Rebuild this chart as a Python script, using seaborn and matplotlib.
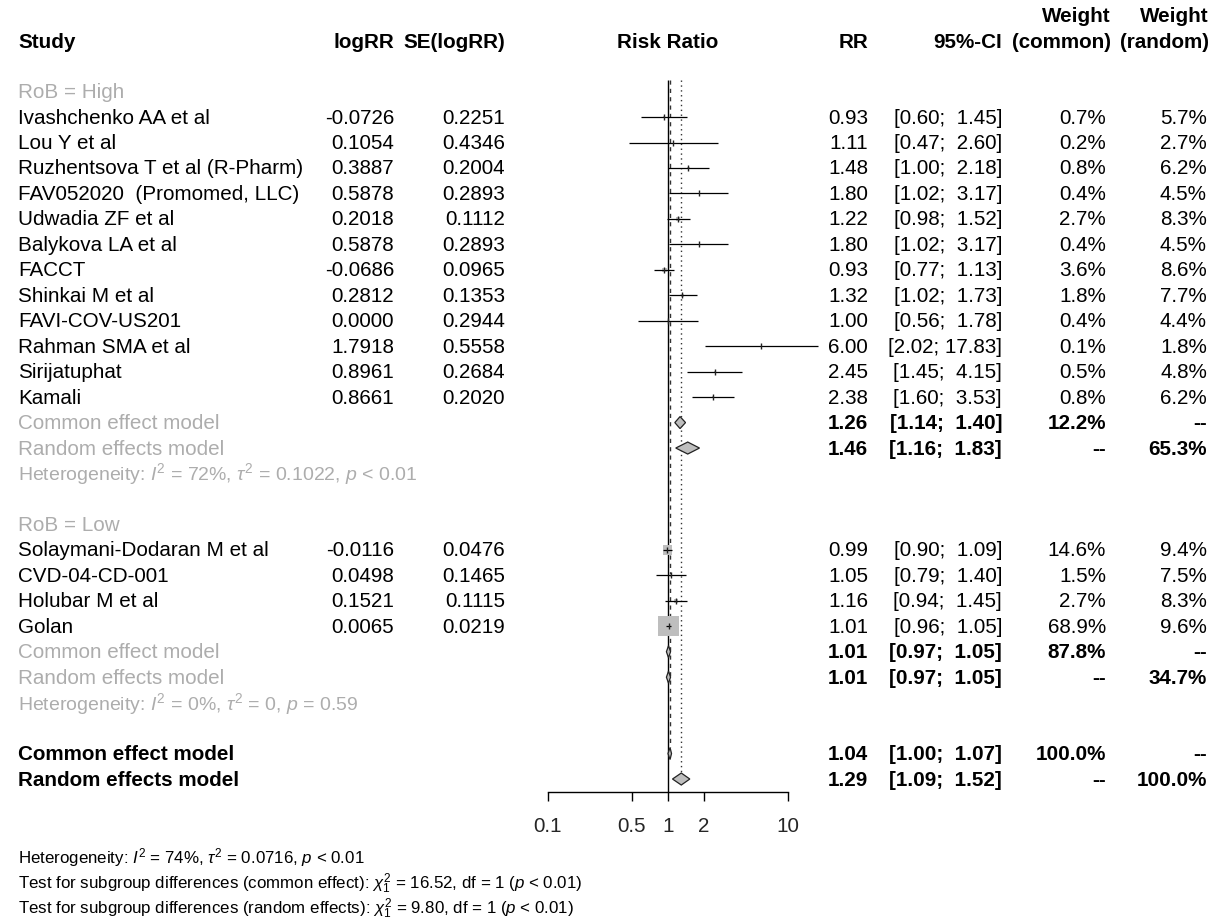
import matplotlib
matplotlib.use("Agg")
import matplotlib.pyplot as plt
from matplotlib.patches import Polygon
from matplotlib.ticker import NullLocator, FixedLocator, FixedFormatter
import numpy as np
import pandas as pd
import seaborn as sns

# ---------------- data ----------------
high_study = ["Ivashchenko AA et al", "Lou Y et al", "Ruzhentsova T et al (R-Pharm)",
              "FAV052020  (Promomed, LLC)", "Udwadia ZF et al", "Balykova LA et al",
              "FACCT", "Shinkai M et al", "FAVI-COV-US201", "Rahman SMA et al",
              "Sirijatuphat", "Kamali"]
high_logrr = [-0.0726, 0.1054, 0.3887, 0.5878, 0.2018, 0.5878, -0.0686, 0.2812, 0.0000, 1.7918, 0.8961, 0.8661]
high_se = [0.2251, 0.4346, 0.2004, 0.2893, 0.1112, 0.2893, 0.0965, 0.1353, 0.2944, 0.5558, 0.2684, 0.2020]
high_rr = [0.93, 1.11, 1.48, 1.80, 1.22, 1.80, 0.93, 1.32, 1.00, 6.00, 2.45, 2.38]
high_lo = [0.60, 0.47, 1.00, 1.02, 0.98, 1.02, 0.77, 1.02, 0.56, 2.02, 1.45, 1.60]
high_hi = [1.45, 2.60, 2.18, 3.17, 1.52, 3.17, 1.13, 1.73, 1.78, 17.83, 4.15, 3.53]
high_wc = [0.7, 0.2, 0.8, 0.4, 2.7, 0.4, 3.6, 1.8, 0.4, 0.1, 0.5, 0.8]
high_wr = [5.7, 2.7, 6.2, 4.5, 8.3, 4.5, 8.6, 7.7, 4.4, 1.8, 4.8, 6.2]

low_study = ["Solaymani-Dodaran M et al", "CVD-04-CD-001", "Holubar M et al", "Golan"]
low_logrr = [-0.0116, 0.0498, 0.1521, 0.0065]
low_se = [0.0476, 0.1465, 0.1115, 0.0219]
low_rr = [0.99, 1.05, 1.16, 1.01]
low_lo = [0.90, 0.79, 0.94, 0.96]
low_hi = [1.09, 1.40, 1.45, 1.05]
low_wc = [14.6, 1.5, 2.7, 68.9]
low_wr = [9.4, 7.5, 8.3, 9.6]

subgroup_names = ["RoB = High", "RoB = Low"]
sub_common_rr = [1.26, 1.01]
sub_common_lo = [1.14, 0.97]
sub_common_hi = [1.40, 1.05]
sub_common_w = [12.2, 87.8]
sub_random_rr = [1.46, 1.01]
sub_random_lo = [1.16, 0.97]
sub_random_hi = [1.83, 1.05]
sub_random_w = [65.3, 34.7]
sub_het = [r"Heterogeneity: $\mathit{I}^2$ = 72%, $\tau^2$ = 0.1022, $\mathit{p}$ < 0.01",
           r"Heterogeneity: $\mathit{I}^2$ = 0%, $\tau^2$ = 0, $\mathit{p}$ = 0.59"]

overall_rr = [1.04, 1.29]
overall_lo = [1.00, 1.09]
overall_hi = [1.07, 1.52]
overall_wc = [100.0, None]
overall_wr = [None, 100.0]
model_labels = ["Common effect model", "Random effects model"]

tick_values = [0.1, 0.5, 1, 2, 10]
tick_labels = ["0.1", "0.5", "1", "2", "10"]

footnotes = [r"Heterogeneity: $\mathit{I}^2$ = 74%, $\tau^2$ = 0.0716, $\mathit{p}$ < 0.01",
             r"Test for subgroup differences (common effect): $\chi^2_1$ = 16.52, df = 1 ($\mathit{p}$ < 0.01)",
             r"Test for subgroup differences (random effects): $\chi^2_1$ = 9.80, df = 1 ($\mathit{p}$ < 0.01)"]

# ---------------- style ----------------
sns.set_theme(style="white")
plt.rcParams["font.family"] = ["Liberation Sans", "DejaVu Sans"]
plt.rcParams["mathtext.fontset"] = "custom"
plt.rcParams["mathtext.rm"] = "Liberation Sans"
plt.rcParams["mathtext.it"] = "Liberation Sans:italic"
plt.rcParams["mathtext.bf"] = "Liberation Sans:bold"

W, H = 1216, 920
FS = 14.9        # main text (pt)
FS_HET = 14.0    # subgroup heterogeneity lines
FS_SMALL = 12.2  # footnotes
GREY_TXT = "#adadad"
SQ_COL = "#bebebe"

# layout (pixels)
X_STUDY = 18
X_LOGRR = 394
X_SE = 505
X_RR = 868
X_CI = 1002
X_WC = 1106
X_WC_HEAD = 1111
X_WR = 1207
X_WR_HEAD = 1209
X_ONE = 668
PX_PER_DEC = 120
Y_ROW0 = 92.6
DY = 25.46
Y_HEAD = 43
Y_HEAD0 = 17
Y_AXIS = 793
Y_FOOT0 = 858


def row_y(i):
    return Y_ROW0 + i * DY


fig = plt.figure(figsize=(W / 100, H / 100), dpi=100)

# forest axes (log scale on x, pixel rows on y)
ax = fig.add_axes([0, 0, 1, 1])
ax.set_xscale("log")
ax.set_xlim(10 ** (-X_ONE / PX_PER_DEC), 10 ** ((W - X_ONE) / PX_PER_DEC))
ax.set_ylim(H, 0)
ax.patch.set_alpha(0)
for s in ["top", "left", "right"]:
    ax.spines[s].set_visible(False)
ax.spines["bottom"].set_position(("data", Y_AXIS))
ax.spines["bottom"].set_bounds(tick_values[0], tick_values[-1])
ax.spines["bottom"].set_color("black")
ax.spines["bottom"].set_linewidth(1.0)
ax.xaxis.set_major_locator(FixedLocator(tick_values))
ax.xaxis.set_major_formatter(FixedFormatter(tick_labels))
ax.xaxis.set_minor_locator(NullLocator())
ax.tick_params(axis="x", direction="out", length=6.5, width=1.0, color="black",
               labelsize=FS, pad=11, bottom=True)
ax.set_yticks([])
ax.grid(False)

# text axes (pixel coordinates)
tx = fig.add_axes([0, 0, 1, 1])
tx.set_xlim(0, W)
tx.set_ylim(H, 0)
tx.axis("off")


def put(x, y, s, ha="left", bold=False, color="black", size=FS):
    tx.text(x, y, s, ha=ha, va="center", fontsize=size, color=color,
            fontweight="bold" if bold else "normal")


def pct(v):
    return "--" if v is None else f"{v:.1f}%"


def ci(lo, hi):
    return f"[{lo:.2f}; {hi:5.2f}]"


# headers
put(X_WC_HEAD, Y_HEAD0, "Weight", ha="right", bold=True)
put(X_WR_HEAD, Y_HEAD0, "Weight", ha="right", bold=True)
put(X_STUDY, Y_HEAD, "Study", bold=True)
put(X_LOGRR, Y_HEAD, "logRR", ha="right", bold=True)
put(X_SE, Y_HEAD, "SE(logRR)", ha="right", bold=True)
put(X_ONE, Y_HEAD, "Risk Ratio", ha="center", bold=True)
put(X_RR, Y_HEAD, "RR", ha="right", bold=True)
put(X_CI, Y_HEAD, "95%-CI", ha="right", bold=True)
put(X_WC_HEAD, Y_HEAD, "(common)", ha="right", bold=True)
put(X_WR_HEAD, Y_HEAD, "(random)", ha="right", bold=True)

groups = [
    (high_study, high_logrr, high_se, high_rr, high_lo, high_hi, high_wc, high_wr),
    (low_study, low_logrr, low_se, low_rr, low_lo, low_hi, low_wc, low_wr),
]

study_records = []
diamonds = []  # (rr, lo, hi, y)
i = 0
for g, (names, lrr, se, rr, lo, hi, wc, wr) in enumerate(groups):
    put(X_STUDY, row_y(i), subgroup_names[g], color=GREY_TXT)
    i += 1
    for j in range(len(names)):
        y = row_y(i)
        put(X_STUDY, y, names[j])
        put(X_LOGRR, y, f"{lrr[j]:.4f}", ha="right")
        put(X_SE, y, f"{se[j]:.4f}", ha="right")
        put(X_RR, y, f"{rr[j]:.2f}", ha="right")
        put(X_CI, y, ci(lo[j], hi[j]), ha="right")
        put(X_WC, y, pct(wc[j]), ha="right")
        put(X_WR, y, pct(wr[j]), ha="right")
        study_records.append(dict(rr=rr[j], lo=lo[j], hi=hi[j], w=wc[j], y=y))
        i += 1
    # subgroup common
    y = row_y(i)
    put(X_STUDY, y, model_labels[0], color=GREY_TXT)
    put(X_RR, y, f"{sub_common_rr[g]:.2f}", ha="right", bold=True)
    put(X_CI, y, ci(sub_common_lo[g], sub_common_hi[g]), ha="right", bold=True)
    put(X_WC, y, pct(sub_common_w[g]), ha="right", bold=True)
    put(X_WR, y, "--", ha="right", bold=True)
    diamonds.append((sub_common_rr[g], sub_common_lo[g], sub_common_hi[g], y))
    i += 1
    # subgroup random
    y = row_y(i)
    put(X_STUDY, y, model_labels[1], color=GREY_TXT)
    put(X_RR, y, f"{sub_random_rr[g]:.2f}", ha="right", bold=True)
    put(X_CI, y, ci(sub_random_lo[g], sub_random_hi[g]), ha="right", bold=True)
    put(X_WC, y, "--", ha="right", bold=True)
    put(X_WR, y, pct(sub_random_w[g]), ha="right", bold=True)
    diamonds.append((sub_random_rr[g], sub_random_lo[g], sub_random_hi[g], y))
    i += 1
    # heterogeneity
    put(X_STUDY, row_y(i), sub_het[g], color=GREY_TXT, size=FS_HET)
    i += 2  # plus blank row

# overall
overall_y = []
for k in range(2):
    y = row_y(i)
    overall_y.append(y)
    put(X_STUDY, y, model_labels[k], bold=True)
    put(X_RR, y, f"{overall_rr[k]:.2f}", ha="right", bold=True)
    put(X_CI, y, ci(overall_lo[k], overall_hi[k]), ha="right", bold=True)
    put(X_WC, y, pct(overall_wc[k]), ha="right", bold=True)
    put(X_WR, y, pct(overall_wr[k]), ha="right", bold=True)
    diamonds.append((overall_rr[k], overall_lo[k], overall_hi[k], y))
    i += 1

# footnotes
for k, s in enumerate(footnotes):
    put(X_STUDY, Y_FOOT0 + k * DY, s, size=FS_SMALL)

# ---------------- forest marks ----------------
df = pd.DataFrame(study_records)
y_top = row_y(0) - 0.45 * DY

# reference lines
ax.vlines(1, y_top, Y_AXIS, color="black", lw=1.0, zorder=1)
ax.vlines(overall_rr[0], y_top, overall_y[0] - 7, color="#333333", lw=1.0,
          linestyles=(0, (3, 3)), zorder=1)
ax.vlines(overall_rr[1], y_top, overall_y[1] - 7, color="#333333", lw=1.0,
          linestyles=(0, (1, 2.5)), zorder=1)

# squares (area proportional to common-effect weight)
wmax = df["w"].max()
sns.scatterplot(data=df, x="rr", y="y", size="w", sizes=(0, 210), size_norm=(0, wmax),
                marker="s", color=SQ_COL, edgecolor=SQ_COL, linewidth=0,
                legend=False, ax=ax, zorder=2)
# CI lines
ax.hlines(df["y"], df["lo"], df["hi"], color="black", lw=0.9, zorder=3)
# point ticks
sns.scatterplot(data=df, x="rr", y="y", marker="|", s=22, color="#222222",
                linewidth=1.0, legend=False, ax=ax, zorder=4)

# diamonds
half_h = 6.0
for rr, lo, hi, y in diamonds:
    poly = Polygon([(lo, y), (rr, y - half_h), (hi, y), (rr, y + half_h)],
                   closed=True, facecolor=SQ_COL, edgecolor="#222222", lw=0.9, zorder=5)
    ax.add_patch(poly)

ax.set_xlabel("")
ax.set_ylabel("")

fig.savefig("out.png", dpi=100)
